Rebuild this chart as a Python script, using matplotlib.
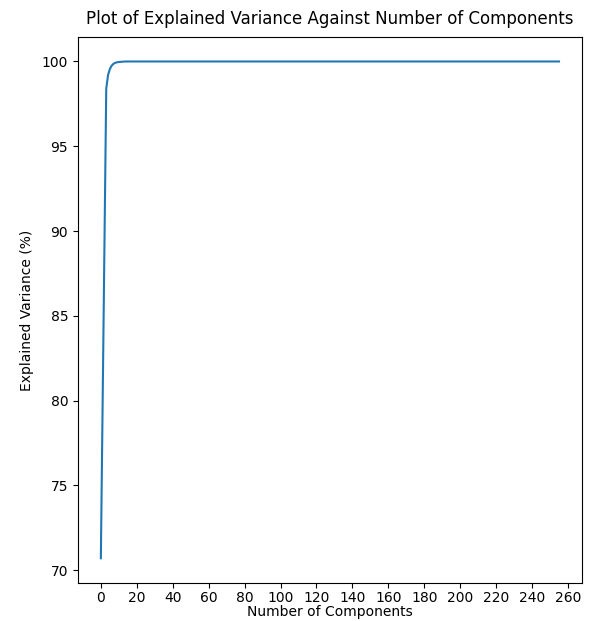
import matplotlib
matplotlib.use("Agg")
import matplotlib.pyplot as plt

# cumulative explained variance (%) per number of components
head_variance = [70.7, 80.0, 89.3, 98.4, 99.2, 99.55, 99.75, 99.86, 99.92,
                 99.95, 99.97, 99.98, 99.99, 99.995]
n_total = 256
explained = head_variance + [100.0] * (n_total - len(head_variance))
components = list(range(len(explained)))

fig = plt.figure(figsize=(5.95, 6.21), dpi=100)
ax = fig.add_axes([0.131, 0.061, 0.847, 0.880])
ax.plot(components, explained, color="#1f77b4", linewidth=1.5)
ax.set_xticks(list(range(0, 261, 20)))
ax.set_yticks([70, 75, 80, 85, 90, 95, 100])
ax.tick_params(axis="x", pad=2)
ax.set_title("Plot of Explained Variance Against Number of Components",
             fontsize=12, pad=9)
ax.set_xlabel("Number of Components", fontsize=10, labelpad=0)
ax.set_ylabel("Explained Variance (%)", fontsize=10, labelpad=6)
fig.savefig("out.png", dpi=100)
